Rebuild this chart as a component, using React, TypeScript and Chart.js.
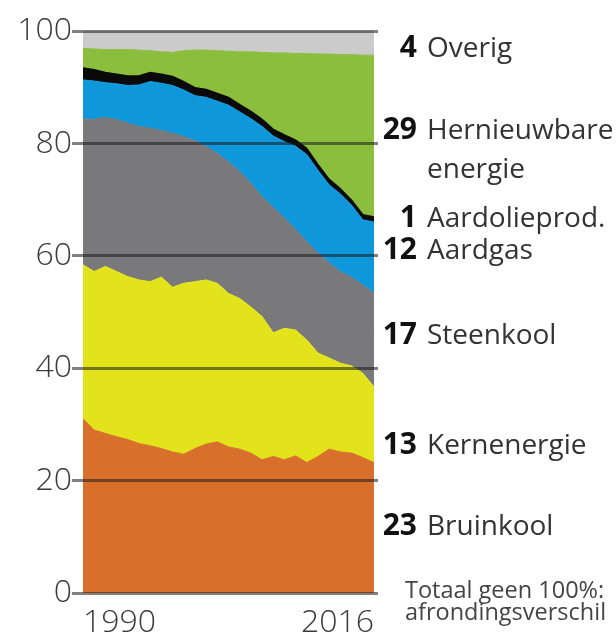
import React, { useEffect, useRef } from "react";
import { Chart, registerables } from "chart.js";

Chart.register(...registerables);

// ---- data (percent of German electricity production) ----
const years = [
  1990, 1991, 1992, 1993, 1994, 1995, 1996, 1997, 1998, 1999, 2000, 2001, 2002,
  2003, 2004, 2005, 2006, 2007, 2008, 2009, 2010, 2011, 2012, 2013, 2014, 2015, 2016,
];
const bruinkool = [
  31.0, 29.0, 28.4, 27.8, 27.3, 26.6, 26.2, 25.7, 25.1, 24.7, 25.7, 26.5, 26.9,
  26.0, 25.6, 24.9, 23.7, 24.3, 23.7, 24.4, 23.2, 24.3, 25.6, 25.1, 24.9, 24.1, 23.2,
];
const kernenergie = [
  27.4, 28.2, 29.7, 29.4, 29.0, 29.1, 29.2, 30.5, 29.3, 30.4, 29.7, 29.2, 28.2,
  27.3, 26.8, 26.0, 25.5, 22.0, 23.4, 22.4, 21.8, 18.4, 16.2, 15.8, 15.5, 15.0, 13.5,
];
const steenkool = [
  25.9, 27.1, 26.5, 27.0, 27.3, 27.3, 27.3, 26.1, 27.4, 26.1, 25.1, 23.7, 23.1,
  23.4, 22.6, 22.0, 21.3, 22.3, 19.6, 17.9, 17.5, 17.8, 16.9, 16.3, 15.8, 15.7, 16.6,
];
const aardgas = [
  7.0, 6.8, 6.2, 6.4, 6.7, 7.4, 8.3, 8.4, 8.5, 8.3, 8.0, 8.8, 9.3,
  10.1, 10.6, 11.5, 12.5, 12.7, 13.6, 14.8, 15.5, 14.7, 13.9, 13.8, 12.8, 11.6, 12.7,
];
const aardolie = [
  2.1, 2.0, 1.8, 1.7, 1.7, 1.6, 1.6, 1.6, 1.6, 1.5, 1.4, 1.4, 1.4,
  1.4, 1.3, 1.3, 1.3, 1.2, 1.2, 1.1, 1.1, 1.0, 1.0, 0.9, 0.9, 0.9, 0.9,
];
const hernieuwbaar = [
  3.5, 3.7, 4.1, 4.4, 4.7, 4.6, 3.9, 4.0, 4.3, 5.5, 6.7, 7.0, 7.6,
  8.2, 9.4, 10.6, 11.9, 13.6, 14.6, 15.4, 16.9, 19.7, 22.3, 23.9, 25.9, 28.4, 28.8,
];
const overig = [
  3.1, 3.2, 3.3, 3.3, 3.3, 3.4, 3.5, 3.7, 3.8, 3.5, 3.4, 3.4, 3.5,
  3.6, 3.7, 3.7, 3.8, 3.9, 3.9, 4.0, 4.0, 4.1, 4.1, 4.2, 4.2, 4.3, 4.3,
];
const seriesNames = ["Bruinkool", "Kernenergie", "Steenkool", "Aardgas", "Aardolieprod.", "Hernieuwbare energie", "Overig"];
const xTickValues = [1990, 2016];
const yTickStep = 20;

// end labels (2016 shares)
const endValues = ["4", "29", "1", "12", "17", "13", "23"];
const endNames = ["Overig", "Hernieuwbare", "Aardolieprod.", "Aardgas", "Steenkool", "Kernenergie", "Bruinkool"];
const endNameSecondLine = "energie";
const noteLines = ["Totaal geen 100%:", "afrondingsverschil"];

// ---- styles ----
const colors = ["#d8702c", "#e3e31c", "#79797b", "#0f97dc", "#0a0a0a", "#8cbe3e", "#cbcbcb"];
const labelCapCenters = [47, 129, 217, 249, 334, 444, 525]; // page px
const FONT = '"Open Sans", "Noto Sans", "DejaVu Sans", sans-serif';

export default function App() {
  const canvasRef = useRef<HTMLCanvasElement | null>(null);

  useEffect(() => {
    const ctx = canvasRef.current!;
    const layers = [bruinkool, kernenergie, steenkool, aardgas, aardolie, hernieuwbaar, overig];
    const chart = new Chart(ctx, {
      type: "line",
      data: {
        datasets: layers.map((vals, i) => ({
          label: seriesNames[i],
          data: years.map((x, j) => ({ x, y: vals[j] })),
          backgroundColor: colors[i],
          borderColor: colors[i],
          borderWidth: i === 4 ? 1.5 : 1,
          fill: i === 0 ? "origin" : "-1",
          pointRadius: 0,
          tension: 0,
        })),
      },
      options: {
        animation: false,
        responsive: true,
        maintainAspectRatio: false,
        layout: { padding: { top: 23, right: 20, bottom: 0, left: 0 } },
        plugins: { legend: { display: false }, tooltip: { enabled: false } },
        scales: {
          x: {
            type: "linear",
            min: 1990,
            max: 2016.36,
            grid: { display: false, drawTicks: false },
            border: { display: false },
            afterBuildTicks: (s: any) => {
              s.ticks = xTickValues.map((v) => ({ value: v }));
            },
            afterFit: (s: any) => {
              s.height = 44;
            },
            ticks: {
              align: "inner",
              autoSkip: false,
              maxRotation: 0,
              padding: 11,
              color: "#3a3a3a",
              font: { family: FONT, size: 32, weight: 300 },
              callback: (v: any) => String(v),
            },
          },
          y: {
            stacked: true,
            min: 0,
            max: 100,
            afterFit: (s: any) => {
              s.width = 75;
            },
            grid: { z: 1, color: "rgba(25,25,25,0.55)", lineWidth: 3, tickLength: 11, drawTicks: true },
            border: { display: false },
            ticks: {
              stepSize: yTickStep,
              padding: 0,
              color: "#3a3a3a",
              font: { family: FONT, size: 32, weight: 300 },
            },
          },
        },
      },
    });
    return () => chart.destroy();
  }, []);

  const numStyle = (cap: number): React.CSSProperties => ({
    position: "absolute",
    left: 348,
    width: 61,
    textAlign: "right",
    top: cap - 15.93 - 8,
    fontSize: 30,
    lineHeight: "30px",
    fontWeight: 700,
    color: "#111",
    fontFamily: FONT,
    whiteSpace: "nowrap",
  });
  const nameStyle = (cap: number): React.CSSProperties => ({
    position: "absolute",
    left: 419,
    top: cap - 14.86 - 8,
    fontSize: 28,
    lineHeight: "28px",
    fontWeight: 400,
    color: "#333",
    fontFamily: FONT,
    whiteSpace: "nowrap",
  });

  return (
    <div style={{ position: "fixed", left: 8, top: 8, width: 608, height: 629 }}>
      <div style={{ position: "absolute", left: 0, top: 0, width: 390, height: 629 }}>
        <canvas ref={canvasRef} />
      </div>
      {endValues.map((v, i) => (
        <React.Fragment key={i}>
          <div style={numStyle(labelCapCenters[i])}>{v}</div>
          <div style={nameStyle(labelCapCenters[i])}>{endNames[i]}</div>
        </React.Fragment>
      ))}
      <div style={{ ...nameStyle(0), top: 178 - 24.86 - 8 }}>{endNameSecondLine}</div>
      <div
        style={{
          position: "absolute",
          left: 397,
          top: 570,
          fontSize: 23.5,
          lineHeight: "22px",
          color: "#444",
          fontFamily: FONT,
          whiteSpace: "nowrap",
        }}
      >
        {noteLines.map((l, i) => (
          <div key={i}>{l}</div>
        ))}
      </div>
    </div>
  );
}
